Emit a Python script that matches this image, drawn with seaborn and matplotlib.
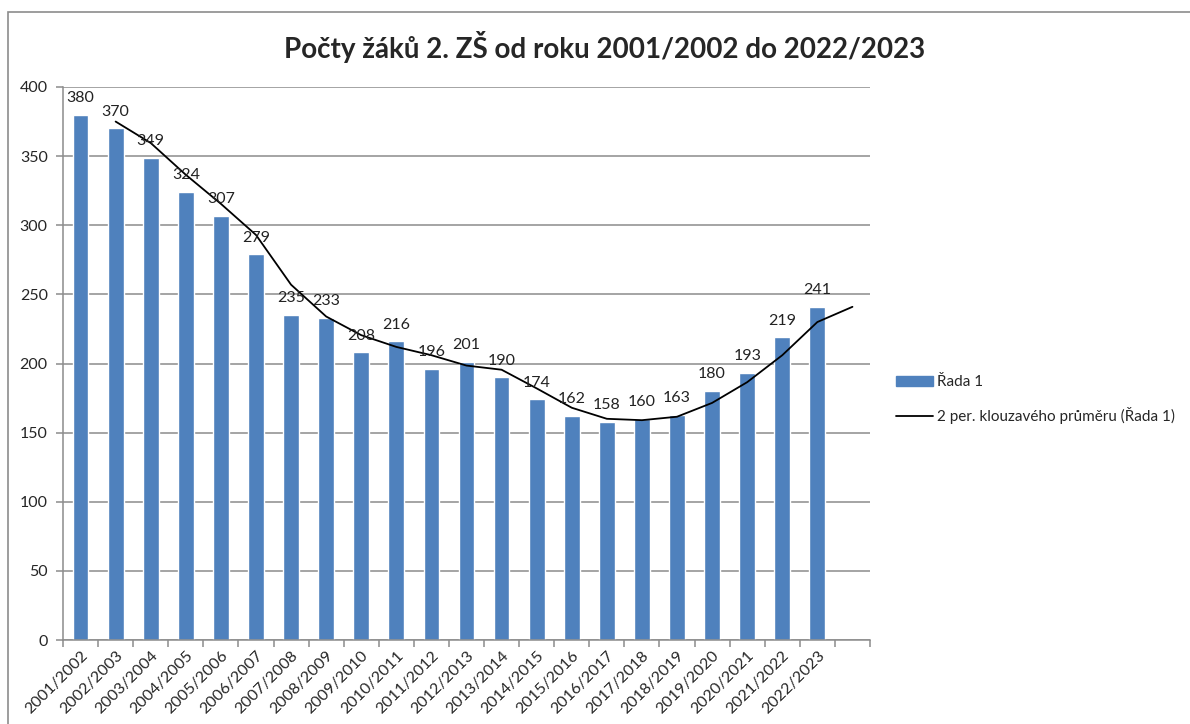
import numpy as np
import pandas as pd
import matplotlib
matplotlib.use("Agg")
import matplotlib.pyplot as plt
import matplotlib.patches as mpatches
from matplotlib.lines import Line2D
import seaborn as sns

# school years and pupil counts
years = ["2001/2002", "2002/2003", "2003/2004", "2004/2005", "2005/2006",
         "2006/2007", "2007/2008", "2008/2009", "2009/2010", "2010/2011",
         "2011/2012", "2012/2013", "2013/2014", "2014/2015", "2015/2016",
         "2016/2017", "2017/2018", "2018/2019", "2019/2020", "2020/2021",
         "2021/2022", "2022/2023"]
pupils = [380, 370, 349, 324, 307, 279, 235, 233, 208, 216, 196, 201, 190,
          174, 162, 158, 160, 163, 180, 193, 219, 241]
# Excel left one empty category at the end of the axis
slots = years + [""]

title = "Počty žáků 2. ZŠ od roku 2001/2002 do 2022/2023"
bar_label = "Řada 1"
line_label = "2 per. klouzavého průměru (Řada 1)"

BAR_COLOR = "#4F81BD"
GRID_COLOR = "#8C8C8C"

sns.set_theme(style="white")
plt.rcParams["font.family"] = ["Lato", "DejaVu Sans"]

df = pd.DataFrame({"year": years, "pupils": pupils})

# 2-period moving average as Excel computes it (starts at the 2nd point,
# last point over the blank slot is just the final value)
s = pd.Series(pupils + [np.nan])
moving = s.rolling(2, min_periods=1).mean().iloc[1:]

fig = plt.figure(figsize=(11.9, 7.24), dpi=100)
ax = fig.add_axes([63 / 1190, 1 - 640 / 724, (870 - 63) / 1190, (640 - 87) / 724])

sns.barplot(data=df, x="year", y="pupils", order=slots, color=BAR_COLOR,
            width=0.45, saturation=1, errorbar=None, ax=ax, zorder=2)
ax.plot(moving.index, moving.values, color="black", lw=1.3, zorder=3)

for i, v in enumerate(pupils):
    ax.text(i, v + 7, str(v), ha="center", va="bottom", fontsize=11.5, color="#222222", zorder=4)

ax.set_xlim(-0.5, len(slots) - 0.5)
ax.set_ylim(0, 400)
ax.set_yticks(np.arange(0, 401, 50))
ax.yaxis.grid(True, color=GRID_COLOR, lw=1.1)
ax.set_axisbelow(True)
ax.set_xlabel("")
ax.set_ylabel("")

for side in ["top", "right"]:
    ax.spines[side].set_visible(False)
for side in ["left", "bottom"]:
    ax.spines[side].set_color(GRID_COLOR)
    ax.spines[side].set_linewidth(1.1)

ax.set_xticks(range(len(slots)))
ax.set_xticklabels(slots, rotation=45, ha="right", rotation_mode="anchor", fontsize=11.5)
ax.set_xticks(np.arange(-0.5, len(slots)), minor=True)
ax.tick_params(axis="x", which="major", length=0, pad=6)
ax.tick_params(axis="x", which="minor", length=5, color=GRID_COLOR, width=1.1, direction="out", bottom=True)
ax.tick_params(axis="y", length=5, color=GRID_COLOR, width=1.1, direction="out", left=True, labelsize=11.5, pad=6)

fig.suptitle(title, x=0.508, y=1 - 47 / 724, va="center", fontsize=20, fontweight="bold")

handles = [mpatches.Patch(color=BAR_COLOR), Line2D([0], [0], color="black", lw=1.3)]
fig.legend(handles, [bar_label, line_label], loc="center left",
           bbox_to_anchor=(0.753, 0.448), frameon=False, fontsize=11,
           handlelength=2.4, handleheight=0.6, labelspacing=1.15, handletextpad=0.25,
           borderpad=0, borderaxespad=0)

# chart area border, running off the right and bottom of the image
fig.patches.append(mpatches.Rectangle((8 / 1190, -0.1), 1.2, 1.1 - 12 / 724,
                                      transform=fig.transFigure, fill=False,
                                      edgecolor="#8C8C8C", lw=1.2))

fig.savefig("out.png", dpi=100)
